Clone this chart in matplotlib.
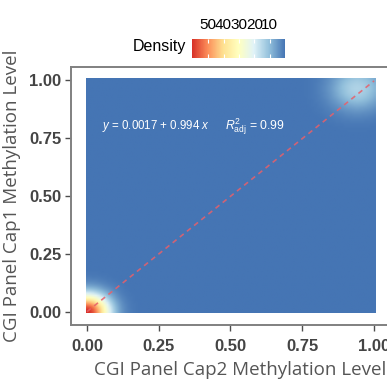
import numpy as np
import matplotlib
matplotlib.use('Agg')
import matplotlib.pyplot as plt
from matplotlib.colors import LinearSegmentedColormap

plt.rcParams['font.family'] = ['Liberation Sans', 'DejaVu Sans']
plt.rcParams['mathtext.fontset'] = 'custom'
plt.rcParams['mathtext.rm'] = 'Liberation Sans'
plt.rcParams['mathtext.it'] = 'Liberation Sans:italic'

# density hot spots (centre, peak density, spread)
hot_x = [0.0, 0.94]
hot_y = [0.0, 0.96]
hot_peak = [60.5, 14.0]
hot_sd = [0.053, 0.065]

# linear fit shown on the chart
intercept = 0.0017
slope = 0.994
r2_adj = 0.99

x_ticks = [0.00, 0.25, 0.50, 0.75, 1.00]
y_ticks = [0.00, 0.25, 0.50, 0.75, 1.00]
cbar_ticks = [10, 20, 30, 40, 50]
dens_max = 60.5

brewer = ['#D73027', '#FC8D59', '#FEE090', '#FFFFBF', '#E0F3F8', '#91BFDB', '#4575B4']
cmap = LinearSegmentedColormap.from_list('rdylbu', brewer[::-1])

# density grid
g = np.linspace(0, 1, 100)
gx, gy = np.meshgrid(g, g)
dens = np.zeros_like(gx)
for cx, cy, pk, sd in zip(hot_x, hot_y, hot_peak, hot_sd):
    dens += pk * np.exp(-((gx - cx)**2 + (gy - cy)**2) / (2 * sd**2))

fig = plt.figure(figsize=(3.87, 3.81), dpi=100)
ax = fig.add_axes([71/387, 1 - 325/381, 319/387, 258/381])
im = ax.imshow(dens, origin='lower', extent=[-0.005, 1.005, -0.005, 1.005],
               cmap=cmap, vmin=0, vmax=dens_max, aspect='auto', interpolation='bilinear')

xl = np.array([0, 1])
ax.plot(xl, intercept + slope * xl, color='#E8606A', lw=1.2, ls=(0, (3, 2.5)), alpha=0.85)

ax.set_xlim(-0.0555, 1.0555)
ax.set_ylim(-0.0555, 1.0555)
ax.set_xticks(x_ticks)
ax.set_yticks(y_ticks)
ax.set_xticklabels(['%.2f' % v for v in x_ticks], fontsize=12, fontweight='bold', color='#444444')
ax.set_yticklabels(['%.2f' % v for v in y_ticks], fontsize=12, fontweight='bold', color='#444444')
ax.tick_params(length=4, width=1, color='#4d4d4d')
ax.tick_params(axis='x', pad=6)
ax.tick_params(axis='y', pad=3)
for s in ax.spines.values():
    s.set_color('#808080')
    s.set_linewidth(1.4)

ax.set_xlabel('CGI Panel Cap2 Methylation Level', fontsize=13.5, color='#555555',
              family='Open Sans')
ax.xaxis.set_label_coords(0.53, -0.14)
ax.set_ylabel('CGI Panel Cap1 Methylation Level', fontsize=13.5, color='#555555',
              family='Open Sans', labelpad=6)

ax.text(0.052, 0.80, r'$y$ = %.4f + %.3f $x$' % (intercept, slope), color='white',
        fontsize=8.3, va='center', ha='left')
ax.text(0.481, 0.80, r'$R^2_{\mathrm{adj}}$ = %.2f' % r2_adj, color='white',
        fontsize=8.8, va='center', ha='left')

# colour bar legend on top
cax = fig.add_axes([192/387, 1 - 58/381, 93/387, 19/381])
cb = fig.colorbar(im, cax=cax, orientation='horizontal', ticks=cbar_ticks)
cb.outline.set_visible(False)
cax.set_xlim(dens_max, 0)
cax.xaxis.set_ticks_position('both')
cax.xaxis.set_label_position('top')
cax.tick_params(axis='x', direction='in', length=3, width=0.8, color='white',
                labeltop=True, labelbottom=False, labelsize=11, pad=5)
fig.text(186/387, 1 - 47/381, 'Density', fontsize=11.5, ha='right', va='center')

fig.savefig('out.png', dpi=100)
